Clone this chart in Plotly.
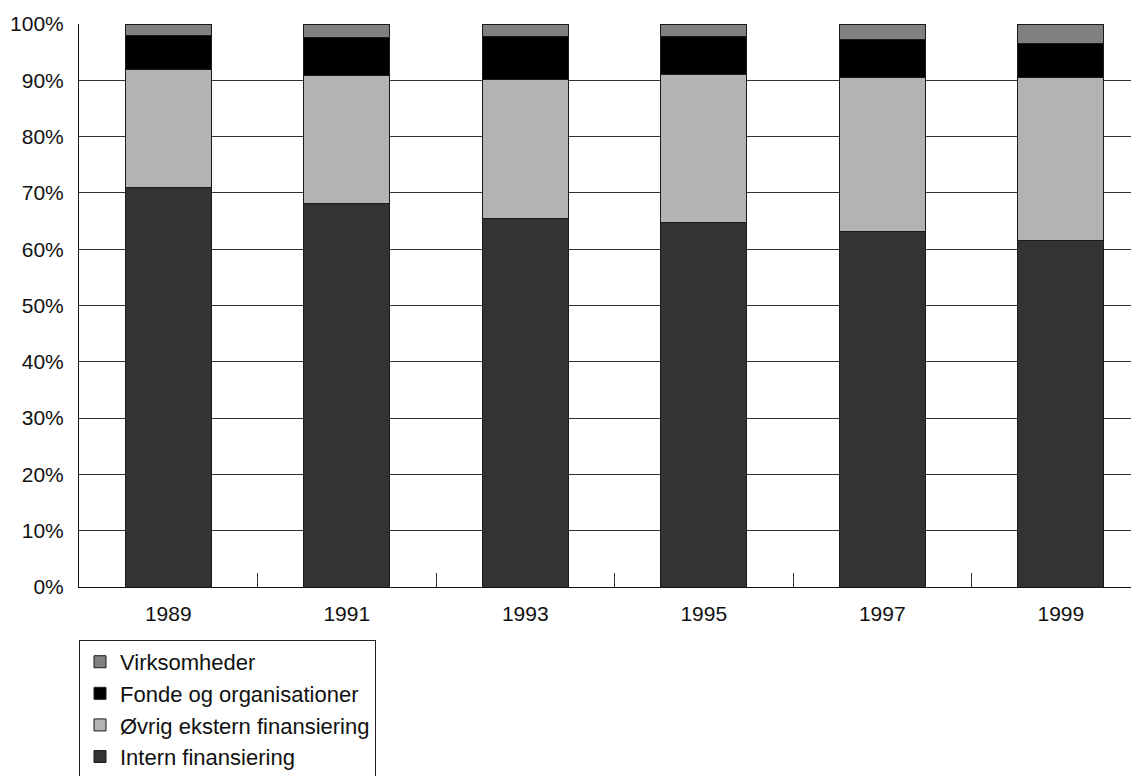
import plotly.graph_objects as go

years = ["1989", "1991", "1993", "1995", "1997", "1999"]
intern = [71.0, 68.2, 65.4, 64.8, 63.2, 61.6]
ovrig = [21.0, 22.6, 24.8, 26.3, 27.3, 28.9]
fonde = [6.0, 6.8, 7.5, 6.6, 6.8, 6.1]
virksomheder = [2.0, 2.4, 2.3, 2.3, 2.7, 3.4]
y_ticks = [0, 10, 20, 30, 40, 50, 60, 70, 80, 90, 100]
y_labels = [f"{v}%" for v in y_ticks]

series = [
    ("Intern finansiering", intern, "#333333"),
    ("Øvrig ekstern finansiering", ovrig, "#b3b3b3"),
    ("Fonde og organisationer", fonde, "#000000"),
    ("Virksomheder", virksomheder, "#808080"),
]

fig = go.Figure()
for name, vals, col in series:
    fig.add_trace(go.Bar(
        x=years, y=vals, name=name,
        marker=dict(color=col, line=dict(color="#1a1a1a", width=1)),
        width=0.48,
    ))

font = "Liberation Sans, Arial, sans-serif"
fig.update_layout(
    barmode="stack",
    width=1131, height=768,
    margin=dict(l=71, r=0, t=16, b=189, autoexpand=False),
    paper_bgcolor="white", plot_bgcolor="white",
    font=dict(family=font, size=21, color="#111111"),
    showlegend=True,
    legend=dict(
        x=0, xanchor="left", y=-0.094, yanchor="top",
        traceorder="reversed",
        bordercolor="#222222", borderwidth=1,
        bgcolor="white",
        font=dict(family=font, size=22, color="#111111"),
        tracegroupgap=0,
        itemwidth=30,
    ),
    xaxis=dict(
        range=[-0.5, 5.438],
        showline=True, linecolor="#111111", linewidth=1,
        ticks="inside", tickson="boundaries", ticklen=14,
        tickcolor="#333333", tickwidth=1,
        showgrid=False, zeroline=False,
        tickfont=dict(size=21),
        ticklabelstandoff=8,
        automargin=False,
    ),
    yaxis=dict(
        range=[0, 100],
        tickvals=y_ticks, ticktext=y_labels,
        showgrid=True, gridcolor="#333333", gridwidth=1,
        showline=True, linecolor="#111111", linewidth=1,
        ticks="", zeroline=False,
        tickfont=dict(size=21),
        ticklabelstandoff=10,
        automargin=False,
    ),
)

fig.write_html("out.html")
